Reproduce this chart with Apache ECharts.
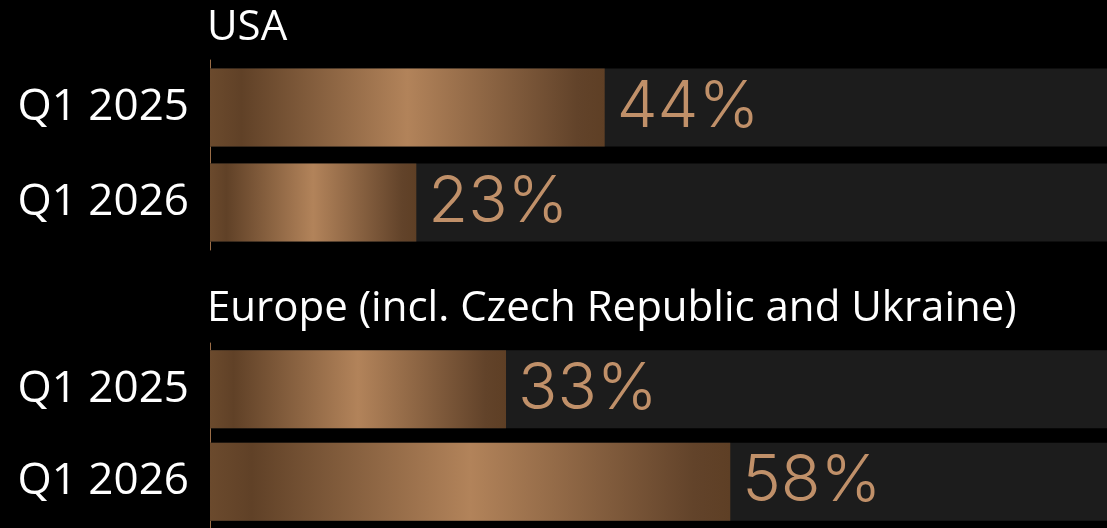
<!DOCTYPE html>
<html>
<head>
<meta charset="utf-8">
<script src="https://cdn.jsdelivr.net/npm/echarts@6/dist/echarts.min.js"></script>
<style>
  html, body { margin: 0; padding: 0; background: #000; }
  #main { width: 1107px; height: 528px; }
</style>
</head>
<body>
<div id="main"></div>
<script>
// data
var groups = ['USA', 'Europe (incl. Czech Republic and Ukraine)'];
var periods = ['Q1 2025', 'Q1 2026'];
var usaShares = [44, 23];
var europeShares = [33, 58];

var textFont = 'Open Sans';
var numFont = 'Inter';
var copper = {
  type: 'linear', x: 0, y: 0, x2: 1, y2: 0,
  colorStops: [
    {offset: 0, color: '#6b4a2d'},
    {offset: 0.08, color: '#604127'},
    {offset: 0.5, color: '#b2835a'},
    {offset: 0.93, color: '#62432a'},
    {offset: 1, color: '#5e3f25'}
  ]
};

function yAxisFor(i) {
  return {
    type: 'category', gridIndex: i, data: periods, inverse: true,
    axisLine: {show: true, lineStyle: {color: '#9a6d47', width: 1}},
    axisTick: {show: false},
    axisLabel: {color: '#fff', fontSize: 44, fontFamily: textFont, margin: 21}
  };
}
function xAxisFor(i) {
  return {type: 'value', gridIndex: i, min: 0, max: 100, show: false, splitLine: {show: false}};
}
function barFor(i, values) {
  return {
    type: 'bar', xAxisIndex: i, yAxisIndex: i, data: values, barWidth: 78,
    showBackground: true,
    backgroundStyle: {color: '#1c1c1c'},
    itemStyle: {color: copper},
    label: {
      show: true, position: 'right', distance: 12,
      formatter: '{c}%', color: '#c09069', fontSize: 65, fontWeight: 300, fontFamily: numFont
    },
    animation: false
  };
}

var chart = echarts.init(document.getElementById('main'));
chart.setOption({
  backgroundColor: '#000',
  animation: false,
  title: [
    {text: groups[0], left: 207, top: 7, padding: 0, textStyle: {color: '#fff', fontSize: 42, fontWeight: 'normal', fontFamily: textFont}},
    {text: groups[1], left: 207, top: 288, padding: 0, textStyle: {color: '#fff', fontSize: 42, fontWeight: 'normal', fontFamily: textFont}}
  ],
  grid: [
    {left: 210, right: 0, top: 60, height: 190},
    {left: 210, right: 0, top: 343, height: 188}
  ],
  xAxis: [xAxisFor(0), xAxisFor(1)],
  yAxis: [yAxisFor(0), yAxisFor(1)],
  series: [barFor(0, usaShares), barFor(1, europeShares)]
});
</script>
</body>
</html>
